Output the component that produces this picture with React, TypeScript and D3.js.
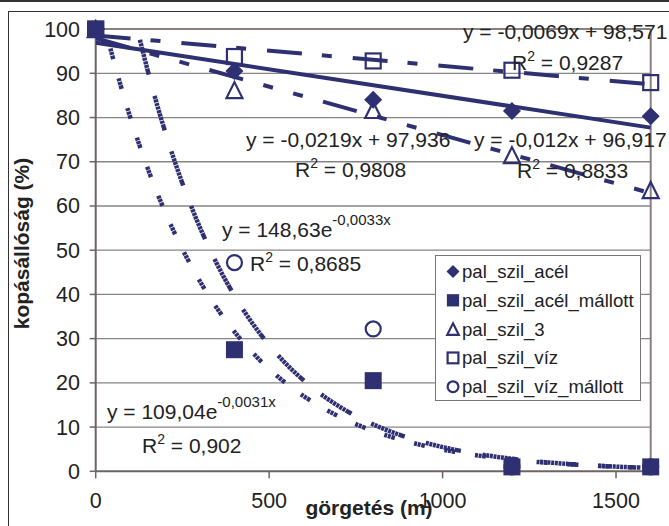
import React from "react";
import * as d3 from "d3";

const distances = [0, 400, 800, 1200, 1600];
const acel = [100, 90.5, 84, 81.5, 80.3];
const acelMallott = [100, 27.5, 20.5, 1, 1];
const szil3 = [100, 86.2, 81.7, 71.5, 63.6];
const viz = [100, 93.8, 92.8, 90.7, 87.9];
const vizMallott = [100, 47.2, 32.2, 1, 1];

const seriesNames = ["pal_szil_acél", "pal_szil_acél_mállott", "pal_szil_3", "pal_szil_víz", "pal_szil_víz_mállott"];
const yTicks = [0, 10, 20, 30, 40, 50, 60, 70, 80, 90, 100];
const xTicks = [0, 500, 1000, 1500];

// trendline coefficients (as printed on chart)
const linAcel = [-0.012, 96.917];
const lin3 = [-0.0219, 97.936];
const linViz = [-0.0069, 98.571];
const expAcelMallott = [109.04, -0.0031];
const expVizMallott = [148.63, -0.0033];

const NAVY = "#2e3072";
const TEXT = "#222";
const FONT = "'Liberation Sans', Arial, sans-serif";

// dash with hatched look: a dash of length `on` made of bars separated by thin gaps
function hatchDash(on: number, off: number): string {
  const bar = 3, gap = 0.7;
  const arr: number[] = [];
  let used = 0;
  while (used + bar + gap + bar <= on) { arr.push(bar, gap); used += bar + gap; }
  arr.push(on - used, off);
  return arr.join(",");
}

export default function App() {
  const W = 669, H = 526;
  const L = 95.7, R = 650.7, T = 29.1, B = 471.3;
  const x = d3.scaleLinear().domain([0, 1600]).range([L, R]);
  const y = d3.scaleLinear().domain([0, 100]).range([B, T]);

  const line = d3.line<[number, number]>().x(d => x(d[0])).y(d => y(d[1]));
  const linPath = (c: number[]) => line([[0, c[1]], [1600, c[0] * 1600 + c[1]]]) || "";
  const expPath = (c: number[]) => {
    const x0 = Math.log(c[0] / 100) / -c[1];
    const pts: [number, number][] = [];
    for (let i = 0; i <= 200; i++) {
      const xv = x0 + (1600 - x0) * i / 200;
      pts.push([xv, c[0] * Math.exp(c[1] * xv)]);
    }
    return line(pts) || "";
  };

  const diamond = (cx: number, cy: number, r: number) => `M${cx},${cy - r}L${cx + r},${cy}L${cx},${cy + r}L${cx - r},${cy}Z`;
  const tri = (cx: number, cy: number, s: number) => `M${cx},${cy - s / 2}L${cx + s / 2},${cy + s / 2}L${cx - s / 2},${cy + s / 2}Z`;

  const marker = (kind: number, cx: number, cy: number, key: string, scale = 1) => {
    if (kind === 0) return <path key={key} d={diamond(cx, cy, 9 * scale)} fill={NAVY} />;
    if (kind === 1) return <rect key={key} x={cx - 8.5 * scale} y={cy - 8.5 * scale} width={17 * scale} height={17 * scale} fill={NAVY} />;
    if (kind === 2) return <path key={key} d={tri(cx, cy, 16 * scale)} fill="none" stroke={NAVY} strokeWidth={2.2} />;
    if (kind === 3) return <rect key={key} x={cx - 7.5 * scale} y={cy - 7.5 * scale} width={15 * scale} height={15 * scale} fill="none" stroke={NAVY} strokeWidth={2.2} />;
    return <circle key={key} cx={cx} cy={cy} r={7.5 * scale} fill="none" stroke={NAVY} strokeWidth={2.2} />;
  };

  const allSeries = [acel, acelMallott, szil3, viz, vizMallott];

  const eq = (tx: number, ty: number, main: string, sup: string, rest: string, k: string, supSize = 14, dy = -9) => (
    <text key={k} x={tx} y={ty} fontSize={21} fill={TEXT} fontFamily={FONT}>
      {main}
      <tspan fontSize={supSize} dy={dy}>{sup}</tspan>
      <tspan dy={-dy}>{rest}</tspan>
    </text>
  );

  return (
    <svg width={W} height={H} style={{ position: "absolute", left: 0, top: 0, background: "#fff" }} fontFamily={FONT}>
      <defs>
        <clipPath id="plotClip">
          <rect x={L} y={T} width={R - L} height={B - T} />
        </clipPath>
      </defs>
      <rect x={0} y={0} width={W} height={H} fill="#fff" />
      <line x1={0} x2={W} y1={1} y2={1} stroke="#333" strokeWidth={2} />
      <rect x={8.5} y={11.5} width={W + 20} height={H + 20} fill="none" stroke="#333" strokeWidth={1} />

      {/* gridlines */}
      {yTicks.filter(t => t > 0 && t < 100).map(t => (
        <line key={"g" + t} x1={L} x2={R} y1={y(t)} y2={y(t)} stroke="#858585" strokeWidth={1.3} />
      ))}
      {/* plot border top/right */}
      <line x1={L} x2={R} y1={T} y2={T} stroke="#8a7f7f" strokeWidth={2} />
      <line x1={R} x2={R} y1={T} y2={B} stroke="#8a7f7f" strokeWidth={2} />

      {/* axes */}
      <line x1={L} x2={L} y1={T} y2={B} stroke="#6e6464" strokeWidth={2} />
      <line x1={L} x2={R} y1={B} y2={B} stroke="#6e6464" strokeWidth={2} />
      {yTicks.map(t => (
        <line key={"yt" + t} x1={L - 6} x2={L} y1={y(t)} y2={y(t)} stroke="#6e6464" strokeWidth={1.5} />
      ))}
      {xTicks.map(t => (
        <line key={"xt" + t} x1={x(t)} x2={x(t)} y1={B} y2={B + 7} stroke="#6e6464" strokeWidth={1.5} />
      ))}
      {yTicks.map(t => (
        <text key={"yl" + t} x={80} y={y(t) + 7.5} textAnchor="end" fontSize={21.5} fill={TEXT}>{t}</text>
      ))}
      {xTicks.map(t => (
        <text key={"xl" + t} x={x(t)} y={508} textAnchor="middle" fontSize={21.5} fill={TEXT}>{t}</text>
      ))}

      {/* trendlines */}
      <g clipPath="url(#plotClip)" fill="none" stroke={NAVY} strokeWidth={4}>
        <path d={linPath(linAcel)} />
        <path d={linPath(lin3)} strokeDasharray="35,21,10,21,10,21" />
        <path d={linPath(linViz)} strokeDasharray="35,20,10,21" />
        <path d={expPath(expVizMallott)} strokeDasharray={hatchDash(36, 22)} strokeDashoffset={47} strokeWidth={4.5} />
        <path d={expPath(expAcelMallott)} strokeDasharray={hatchDash(11, 20)} strokeDashoffset={11} strokeWidth={4.5} />
      </g>

      {/* markers */}
      {allSeries.map((s, si) => s.map((v, i) => marker(si, x(distances[i]), y(v), `m${si}-${i}`)))}

      {/* equations */}
      <text x={463} y={39} fontSize={21} fill={TEXT}>y = -0,0069x + 98,571</text>
      {eq(512, 70, "R", "2", " = 0,9287", "r1")}
      <text x={246} y={147} fontSize={21} fill={TEXT}>y = -0,0219x + 97,936</text>
      {eq(295, 177, "R", "2", " = 0,9808", "r2")}
      <text x={474} y={147} fontSize={21} fill={TEXT}>y = -0,012x + 96,917</text>
      {eq(517, 178, "R", "2", " = 0,8833", "r3")}
      {eq(222, 237, "y = 148,63e", "-0,0033x", "", "e1", 15, -12)}
      {eq(250, 271, "R", "2", " = 0,8685", "r4")}
      {eq(107, 419, "y = 109,04e", "-0,0031x", "", "e2", 15, -12)}
      {eq(142, 453, "R", "2", " = 0,902", "r5")}

      {/* legend */}
      <rect x={435.5} y={255.5} width={205} height={145} fill="#fff" stroke="#777" strokeWidth={1} />
      {seriesNames.map((n, i) => {
        const cy = 271.5 + i * 28.8;
        return (
          <g key={"lg" + i}>
            {marker(i, 453, cy, "lm" + i, 0.72)}
            <text x={462} y={cy + 6.5} fontSize={18.6} fill={TEXT}>{n}</text>
          </g>
        );
      })}

      {/* axis titles */}
      <text x={369} y={515} textAnchor="middle" fontSize={21} fontWeight="bold" fill={TEXT}>görgetés (m)</text>
      <text transform="translate(29,243.5) rotate(-90)" textAnchor="middle" fontSize={21} fontWeight="bold" fill={TEXT}>kopásállóság (%)</text>
    </svg>
  );
}
